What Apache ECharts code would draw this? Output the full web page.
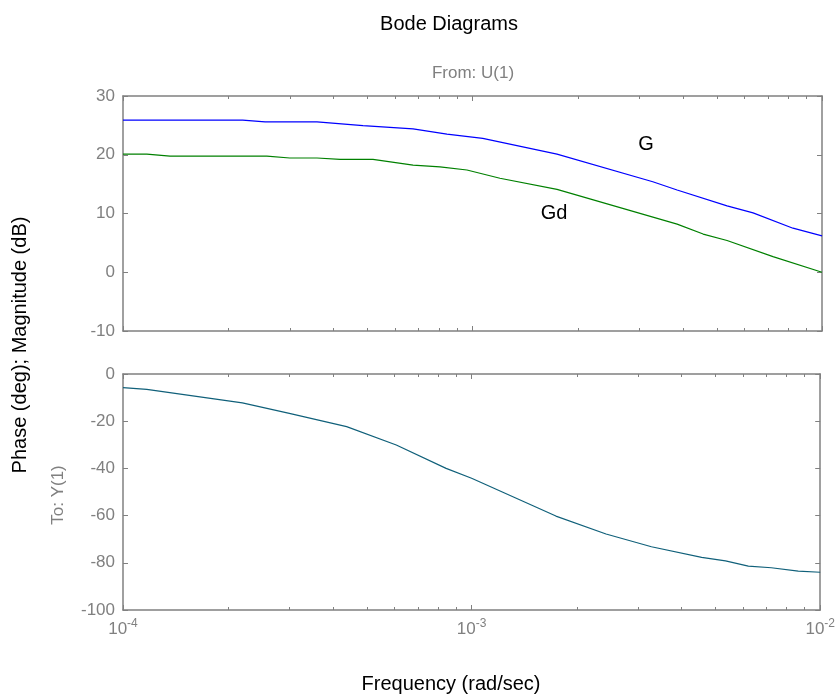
<!DOCTYPE html>
<html>
<head>
<meta charset="utf-8">
<title>Bode Diagrams</title>
<script src="https://cdn.jsdelivr.net/npm/echarts@6/dist/echarts.min.js"></script>
<style>
  html, body { margin: 0; padding: 0; background: #fff; }
  #chart { width: 838px; height: 697px; }
</style>
</head>
<body>
<div id="chart"></div>
<script>
// 幅值曲线 G (rad/sec, dB)
const freqG = [1.0e-4, 2.2e-4, 2.55e-4, 3.59e-4, 4.86e-4, 6.76e-4, 8.45e-4, 1.07e-3,
  1.745e-3, 3.28e-3, 3.85e-3, 5.35e-3, 6.35e-3, 8.26e-3, 1.0e-2]
const magG = [25.9, 25.9, 25.6, 25.6, 24.95, 24.4, 23.5, 22.8,
  20.1, 15.4, 14.0, 11.3, 10.1, 7.5, 6.2]

// 幅值曲线 Gd
const freqGd = [1.0e-4, 1.17e-4, 1.363e-4, 2.58e-4, 3.0e-4, 3.59e-4, 4.18e-4, 5.19e-4,
  6.76e-4, 8.07e-4, 9.64e-4, 1.198e-3, 1.745e-3, 3.85e-3, 4.57e-3, 5.35e-3, 7.24e-3, 1.0e-2]
const magGd = [20.1, 20.1, 19.75, 19.75, 19.45, 19.45, 19.2, 19.2,
  18.25, 17.95, 17.4, 16.0, 14.1, 8.2, 6.5, 5.4, 2.65, 0.0]

// 相位曲线 (deg)
const freqPhase = [1.0e-4, 1.17e-4, 2.2e-4, 3.0e-4, 4.38e-4, 6.08e-4, 8.45e-4, 1.0e-3,
  1.745e-3, 2.43e-3, 3.28e-3, 4.57e-3, 5.35e-3, 6.22e-3, 7.24e-3, 8.65e-3, 1.0e-2]
const phase = [-5.8, -6.5, -12.2, -16.7, -22.3, -30.1, -40.0, -44.2,
  -60.2, -67.8, -73.2, -77.7, -79.2, -81.4, -82.1, -83.5, -84.0]

// 刻度
const magTicks = [-10, 0, 10, 20, 30]
const phaseTicks = [-100, -80, -60, -40, -20, 0]
const freqRange = [1e-4, 1e-2]
const minorFreq = [2e-4, 3e-4, 4e-4, 5e-4, 6e-4, 7e-4, 8e-4, 9e-4,
  2e-3, 3e-3, 4e-3, 5e-3, 6e-3, 7e-3, 8e-3, 9e-3]

const gray = '#808080'
const font = '"Liberation Sans", Arial, sans-serif'

const chart = echarts.init(document.getElementById('chart'))

const xAxisBase = (gridIndex, position, showLabel) => ({
  type: 'log',
  logBase: 10,
  gridIndex,
  position,
  min: freqRange[0],
  max: freqRange[1],
  axisLine: { show: true, onZero: false, lineStyle: { color: gray, width: 1.5 } },
  axisTick: { show: true, inside: true, length: 5, lineStyle: { color: gray } },
  splitLine: { show: false },
  axisLabel: {
    show: showLabel,
    margin: 8,
    formatter: (v) => '{b|10}{s|' + Math.round(Math.log10(v)) + '}',
    rich: {
      b: { fontSize: 17, fontFamily: font, color: gray, lineHeight: 22 },
      s: { fontSize: 12, fontFamily: font, color: gray, lineHeight: 12, verticalAlign: 'top' }
    }
  }
})

const yAxisBase = (gridIndex, position, ticks, showLabel) => ({
  type: 'value',
  gridIndex,
  position,
  min: ticks[0],
  max: ticks[ticks.length - 1],
  interval: ticks[1] - ticks[0],
  axisLine: { show: true, onZero: false, lineStyle: { color: gray, width: 1.5 } },
  axisTick: { show: true, inside: true, length: 5, lineStyle: { color: gray } },
  splitLine: { show: false },
  axisLabel: { show: showLabel, margin: 8, fontSize: 17, fontFamily: font, color: gray }
})

// 对数轴次刻度 (上下边框)
const minorTickSeries = (axisIdx, ticks) => ({
  type: 'custom',
  xAxisIndex: axisIdx,
  yAxisIndex: axisIdx,
  silent: true,
  clip: false,
  data: minorFreq.map(f => [f, ticks[0]]),
  renderItem: (params, api) => {
    const bottom = api.coord([api.value(0), ticks[0]])
    const top = api.coord([api.value(0), ticks[ticks.length - 1]])
    const x = Math.round(bottom[0]) + 0.5
    const style = { stroke: gray, lineWidth: 1 }
    return {
      type: 'group',
      children: [
        { type: 'line', shape: { x1: x, y1: bottom[1], x2: x, y2: bottom[1] - 3 }, style },
        { type: 'line', shape: { x1: x, y1: top[1], x2: x, y2: top[1] + 3 }, style }
      ]
    }
  }
})

const lineSeries = (name, axisIdx, freq, values, color) => ({
  name,
  type: 'line',
  xAxisIndex: axisIdx,
  yAxisIndex: axisIdx,
  data: freq.map((f, i) => [f, values[i]]),
  showSymbol: false,
  smooth: false,
  lineStyle: { color, width: 1.2 },
  z: 3
})

const text = (str, x, y, size, color, rotation) => ({
  type: 'text',
  x,
  y,
  rotation: rotation || 0,
  style: { text: str, font: size + 'px ' + font, fill: color, align: 'center', verticalAlign: 'middle' }
})

const option = {
  animation: false,
  backgroundColor: '#fff',
  grid: [
    { left: 123, right: 16, top: 96, height: 235 },
    { left: 123, right: 16, top: 374, height: 236 }
  ],
  xAxis: [
    xAxisBase(0, 'bottom', false),
    xAxisBase(1, 'bottom', true),
    xAxisBase(0, 'top', false),
    xAxisBase(1, 'top', false)
  ],
  yAxis: [
    yAxisBase(0, 'left', magTicks, true),
    yAxisBase(1, 'left', phaseTicks, true),
    yAxisBase(0, 'right', magTicks, false),
    yAxisBase(1, 'right', phaseTicks, false)
  ],
  series: [
    lineSeries('G', 0, freqG, magG, '#0000ff'),
    lineSeries('Gd', 0, freqGd, magGd, '#008000'),
    lineSeries('Phase', 1, freqPhase, phase, '#10607a'),
    minorTickSeries(0, magTicks),
    minorTickSeries(1, phaseTicks)
  ],
  graphic: [
    text('Bode Diagrams', 449, 24, 20, '#000'),
    text('From: U(1)', 473, 73, 17, gray),
    text('Frequency (rad/sec)', 451, 684, 20, '#000'),
    text('Phase (deg); Magnitude (dB)', 20, 345, 20, '#000', Math.PI / 2),
    text('To: Y(1)', 58, 495, 17, gray, Math.PI / 2),
    text('G', 646, 144, 20, '#000'),
    text('Gd', 554, 213, 20, '#000')
  ]
}

chart.setOption(option)

window.addEventListener('resize', () => chart.resize())
</script>
</body>
</html>
